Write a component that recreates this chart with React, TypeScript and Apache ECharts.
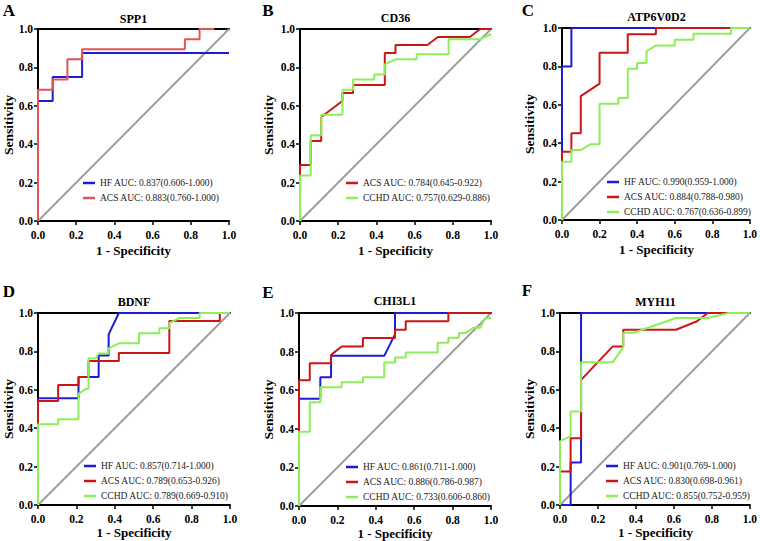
import React, { useEffect, useRef } from "react";
import * as echarts from "echarts";

const FONT = "'Liberation Serif', 'Times New Roman', serif";
const BLUE = "#1c1cd6";
const RED = "#cc1616";
const RED_A = "#e05656";
const GREEN = "#8cee58";
const GRAY = "#9c9c9c";

const tickValues = [0, 0.2, 0.4, 0.6, 0.8, 1.0];
const panelLetters = ["A", "B", "C", "D", "E", "F"];
const panelTitles = ["SPP1", "CD36", "ATP6V0D2", "BDNF", "CHI3L1", "MYH11"];
const diagonal = [[0, 0], [1, 1]];

// Panel A – SPP1
const spp1HF = [[0, 0], [0, 0.625], [0.077, 0.625], [0.077, 0.75], [0.231, 0.75], [0.231, 0.875], [1, 0.875]];
const spp1ACS = [[0, 0], [0, 0.684], [0.077, 0.684], [0.077, 0.737], [0.154, 0.737], [0.154, 0.842], [0.231, 0.842], [0.231, 0.895], [0.769, 0.895], [0.769, 0.947], [0.846, 0.947], [0.846, 1], [0.923, 1]];
const spp1Names = ["HF AUC: 0.837(0.606-1.000)", "ACS AUC: 0.883(0.760-1.000)"];

// Panel B – CD36
const cd36ACS = [[0, 0], [0, 0.292], [0.056, 0.292], [0.056, 0.417], [0.111, 0.417], [0.111, 0.542], [0.222, 0.625], [0.222, 0.667], [0.278, 0.667], [0.278, 0.708], [0.444, 0.708], [0.444, 0.875], [0.5, 0.875], [0.5, 0.917], [0.667, 0.917], [0.722, 0.958], [0.889, 0.958], [0.944, 1], [1, 1]];
const cd36CCHD = [[0, 0], [0, 0.237], [0.056, 0.237], [0.056, 0.447], [0.111, 0.447], [0.111, 0.553], [0.222, 0.553], [0.222, 0.684], [0.278, 0.684], [0.278, 0.737], [0.389, 0.737], [0.389, 0.763], [0.444, 0.763], [0.444, 0.816], [0.5, 0.842], [0.611, 0.842], [0.611, 0.868], [0.778, 0.868], [0.778, 0.947], [0.944, 0.947], [1, 0.974]];
const cd36Names = ["ACS AUC: 0.784(0.645-0.922)", "CCHD AUC: 0.757(0.629-0.886)"];

// Panel C – ATP6V0D2
const atpHF = [[0, 0], [0, 0.8], [0.05, 0.8], [0.05, 1], [1, 1]];
const atpACS = [[0, 0], [0, 0.355], [0.05, 0.355], [0.05, 0.452], [0.1, 0.452], [0.1, 0.645], [0.2, 0.71], [0.2, 0.871], [0.35, 0.871], [0.35, 0.968], [0.5, 0.968], [0.5, 1], [1, 1]];
const atpCCHD = [[0, 0], [0, 0.303], [0.05, 0.303], [0.05, 0.364], [0.1, 0.364], [0.15, 0.394], [0.2, 0.394], [0.2, 0.606], [0.3, 0.606], [0.3, 0.636], [0.35, 0.636], [0.35, 0.788], [0.4, 0.788], [0.4, 0.818], [0.45, 0.818], [0.45, 0.879], [0.5, 0.909], [0.6, 0.909], [0.6, 0.939], [0.7, 0.939], [0.7, 0.97], [0.9, 0.97], [0.9, 1], [1, 1]];
const atpNames = ["HF AUC: 0.990(0.959-1.000)", "ACS AUC: 0.884(0.788-0.980)", "CCHD AUC: 0.767(0.636-0.899)"];

// Panel D – BDNF
const bdnfHF = [[0, 0], [0, 0.556], [0.211, 0.556], [0.211, 0.667], [0.316, 0.667], [0.316, 0.778], [0.368, 0.778], [0.368, 0.889], [0.421, 1], [1, 1]];
const bdnfACS = [[0, 0], [0, 0.542], [0.105, 0.542], [0.105, 0.625], [0.211, 0.625], [0.211, 0.667], [0.263, 0.667], [0.263, 0.75], [0.421, 0.75], [0.421, 0.792], [0.684, 0.792], [0.684, 0.958], [0.947, 0.958], [0.947, 1], [1, 1]];
const bdnfCCHD = [[0, 0], [0, 0.421], [0.105, 0.421], [0.105, 0.447], [0.211, 0.447], [0.211, 0.579], [0.25, 0.605], [0.263, 0.605], [0.263, 0.763], [0.3, 0.763], [0.316, 0.789], [0.368, 0.789], [0.368, 0.816], [0.421, 0.842], [0.526, 0.842], [0.526, 0.895], [0.632, 0.895], [0.632, 0.921], [0.684, 0.921], [0.684, 0.947], [0.737, 0.974], [0.842, 0.974], [0.842, 1], [1, 1]];
const bdnfNames = ["HF AUC: 0.857(0.714-1.000)", "ACS AUC: 0.789(0.653-0.926)", "CCHD AUC: 0.789(0.669-0.910)"];

// Panel E – CHI3L1
const chiHF = [[0, 0], [0, 0.556], [0.111, 0.556], [0.111, 0.667], [0.167, 0.667], [0.167, 0.778], [0.444, 0.778], [0.5, 0.889], [0.5, 1], [1, 1]];
const chiACS = [[0, 0], [0, 0.652], [0.056, 0.652], [0.056, 0.739], [0.167, 0.739], [0.167, 0.783], [0.222, 0.826], [0.333, 0.826], [0.333, 0.87], [0.5, 0.87], [0.5, 0.913], [0.556, 0.913], [0.556, 0.957], [0.778, 0.957], [0.778, 1], [1, 1]];
const chiCCHD = [[0, 0], [0, 0.385], [0.056, 0.385], [0.056, 0.538], [0.111, 0.538], [0.111, 0.615], [0.222, 0.615], [0.222, 0.641], [0.333, 0.641], [0.333, 0.667], [0.444, 0.667], [0.444, 0.744], [0.5, 0.744], [0.5, 0.769], [0.556, 0.769], [0.556, 0.795], [0.722, 0.795], [0.722, 0.846], [0.778, 0.846], [0.778, 0.872], [0.833, 0.872], [0.833, 0.897], [0.87, 0.897], [0.906, 0.923], [0.944, 0.923], [0.97, 0.974], [1, 0.974]];
const chiNames = ["HF AUC: 0.861(0.711-1.000)", "ACS AUC: 0.886(0.786-0.987)", "CCHD AUC: 0.733(0.606-0.860)"];

// Panel F – MYH11
const myhHF = [[0, 0], [0.056, 0], [0.056, 0.222], [0.111, 0.222], [0.111, 1], [1, 1]];
const myhACS = [[0, 0], [0, 0.174], [0.056, 0.174], [0.056, 0.348], [0.111, 0.348], [0.111, 0.652], [0.278, 0.826], [0.333, 0.826], [0.333, 0.913], [0.611, 0.913], [0.722, 0.957], [0.778, 1], [1, 1]];
const myhCCHD = [[0, 0], [0, 0.333], [0.056, 0.359], [0.056, 0.487], [0.111, 0.487], [0.111, 0.744], [0.278, 0.744], [0.333, 0.821], [0.333, 0.897], [0.389, 0.897], [0.611, 0.974], [0.778, 0.974], [0.889, 1], [1, 1]];
const myhNames = ["HF AUC: 0.901(0.769-1.000)", "ACS AUC: 0.830(0.698-0.961)", "CCHD AUC: 0.855(0.752-0.959)"];

const panels = [
  { grid: { left: 38, top: 29, width: 191, height: 192 }, legend: { left: 83, top: 178 }, titleY: 19, letter: [9, 10], yName: 8, xNameY: 250,
    curves: [{ name: spp1Names[0], color: BLUE, data: spp1HF }, { name: spp1Names[1], color: RED_A, data: spp1ACS }] },
  { grid: { left: 300, top: 29, width: 191, height: 192 }, legend: { left: 346, top: 178 }, titleY: 18, letter: [268, 10], yName: 268, xNameY: 250,
    curves: [{ name: cd36Names[0], color: RED, data: cd36ACS }, { name: cd36Names[1], color: GREEN, data: cd36CCHD }] },
  { grid: { left: 562, top: 28, width: 189, height: 192 }, legend: { left: 607, top: 177 }, titleY: 17, letter: [528, 10], yName: 529, xNameY: 249,
    curves: [{ name: atpNames[0], color: BLUE, data: atpHF }, { name: atpNames[1], color: RED, data: atpACS }, { name: atpNames[2], color: GREEN, data: atpCCHD }] },
  { grid: { left: 38, top: 313, width: 192, height: 192 }, legend: { left: 84, top: 461 }, titleY: 302, letter: [9, 291], yName: 8, xNameY: 532,
    curves: [{ name: bdnfNames[0], color: BLUE, data: bdnfHF }, { name: bdnfNames[1], color: RED, data: bdnfACS }, { name: bdnfNames[2], color: GREEN, data: bdnfCCHD }] },
  { grid: { left: 299, top: 313, width: 192, height: 193 }, legend: { left: 346, top: 462 }, titleY: 301, letter: [268, 292], yName: 268, xNameY: 533,
    curves: [{ name: chiNames[0], color: BLUE, data: chiHF }, { name: chiNames[1], color: RED, data: chiACS }, { name: chiNames[2], color: GREEN, data: chiCCHD }] },
  { grid: { left: 560, top: 313, width: 191, height: 192 }, legend: { left: 606, top: 461 }, titleY: 302, letter: [527, 290], yName: 529, xNameY: 532,
    curves: [{ name: myhNames[0], color: BLUE, data: myhHF }, { name: myhNames[1], color: RED, data: myhACS }, { name: myhNames[2], color: GREEN, data: myhCCHD }] },
];

function buildOption() {
  const grids: any[] = [];
  const xAxes: any[] = [];
  const yAxes: any[] = [];
  const series: any[] = [];
  const legends: any[] = [];
  const graphics: any[] = [];
  const axisLineStyle = { color: "#000", width: 2 };
  const fmt = (v: number) => (tickValues.indexOf(v) >= 0 ? v.toFixed(1) : "");

  panels.forEach((p, i) => {
    grids.push({ ...p.grid, containLabel: false });
    xAxes.push({
      type: "value", gridIndex: i, min: 0, max: 1, interval: 0.2, position: "bottom",
      axisLine: { show: true, onZero: false, lineStyle: axisLineStyle },
      axisTick: { show: true, inside: false, length: 4, lineStyle: { color: "#000", width: 1.5 } },
      axisLabel: { show: true, margin: 8, formatter: fmt, color: "#000", fontFamily: FONT, fontWeight: "bold", fontSize: 11.5 },
      splitLine: { show: false },
    });
    xAxes.push({
      type: "value", gridIndex: i, min: 0, max: 1, position: "top",
      axisLine: { show: true, onZero: false, lineStyle: axisLineStyle },
      axisTick: { show: false }, axisLabel: { show: false }, splitLine: { show: false },
    });
    yAxes.push({
      type: "value", gridIndex: i, min: 0, max: 1, interval: 0.2, position: "left",
      axisLine: { show: true, onZero: false, lineStyle: axisLineStyle },
      axisTick: { show: true, inside: false, length: 4, lineStyle: { color: "#000", width: 1.5 } },
      axisLabel: { show: true, margin: 5, formatter: fmt, color: "#000", fontFamily: FONT, fontWeight: "bold", fontSize: 11.5 },
      splitLine: { show: false },
    });
    series.push({
      type: "line", xAxisIndex: i * 2, yAxisIndex: i, data: diagonal, symbol: "none", silent: true,
      lineStyle: { color: GRAY, width: 1.8 }, z: 1,
    });
    p.curves.forEach((c) => {
      series.push({
        type: "line", name: c.name, xAxisIndex: i * 2, yAxisIndex: i, data: c.data, symbol: "none",
        color: c.color, lineStyle: { color: c.color, width: 2 }, z: 2,
      });
    });
    legends.push({
      data: p.curves.map((c) => c.name), left: p.legend.left, top: p.legend.top, orient: "vertical",
      icon: "rect", itemWidth: 12, itemHeight: 2.5, itemGap: 5, padding: 0, selectedMode: false,
      textStyle: { fontFamily: FONT, fontSize: 9.5, color: "#1a1a1a" },
    });
    const cx = p.grid.left + p.grid.width / 2;
    const cy = p.grid.top + p.grid.height / 2;
    graphics.push({
      type: "text", x: cx, y: p.titleY,
      style: { text: panelTitles[i], font: `bold 12px ${FONT}`, fill: "#000", textAlign: "center", textVerticalAlign: "middle" },
    });
    graphics.push({
      type: "text", x: p.letter[0], y: p.letter[1],
      style: { text: panelLetters[i], font: `bold 17px ${FONT}`, fill: "#000", textAlign: "center", textVerticalAlign: "middle" },
    });
    graphics.push({
      type: "text", x: cx, y: p.xNameY,
      style: { text: "1 - Specificity", font: `bold 13px ${FONT}`, fill: "#000", textAlign: "center", textVerticalAlign: "middle" },
    });
    graphics.push({
      type: "text", x: p.yName, y: cy, rotation: Math.PI / 2,
      style: { text: "Sensitivity", font: `bold 13.5px ${FONT}`, fill: "#000", textAlign: "center", textVerticalAlign: "middle" },
    });
  });

  return {
    animation: false,
    backgroundColor: "#fff",
    grid: grids,
    xAxis: xAxes,
    yAxis: yAxes,
    legend: legends,
    series,
    graphic: graphics,
  };
}

export default function App() {
  const ref = useRef<HTMLDivElement>(null);
  useEffect(() => {
    if (!ref.current) return;
    const chart = echarts.init(ref.current, undefined, { renderer: "svg" });
    chart.setOption(buildOption() as any);
    return () => chart.dispose();
  }, []);
  return <div ref={ref} style={{ position: "fixed", left: 0, top: 0, width: 760, height: 541, background: "#fff" }} />;
}
